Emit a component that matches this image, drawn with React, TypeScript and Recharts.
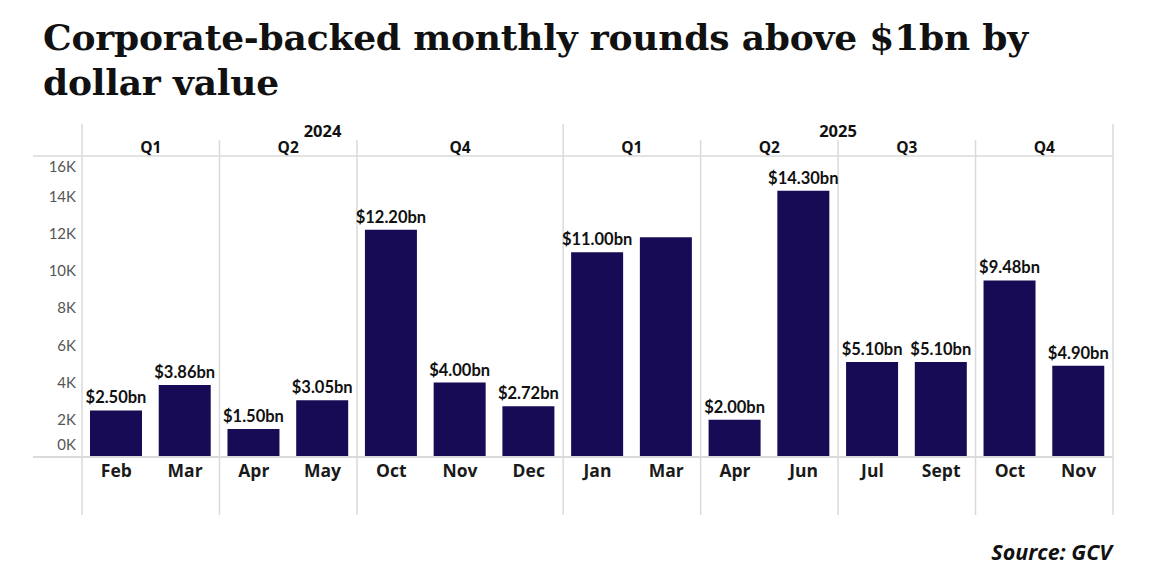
import React from 'react';
import { BarChart, Bar, XAxis, YAxis, LabelList } from 'recharts';

const months = ['Feb', 'Mar', 'Apr', 'May', 'Oct', 'Nov', 'Dec', 'Jan', 'Mar', 'Apr', 'Jun', 'Jul', 'Sept', 'Oct', 'Nov'];
const years = ['2024', '2024', '2024', '2024', '2024', '2024', '2024', '2025', '2025', '2025', '2025', '2025', '2025', '2025', '2025'];
const quarters = ['Q1', 'Q1', 'Q2', 'Q2', 'Q4', 'Q4', 'Q4', 'Q1', 'Q1', 'Q2', 'Q2', 'Q3', 'Q3', 'Q4', 'Q4'];
const values = [2.5, 3.86, 1.5, 3.05, 12.2, 4.0, 2.72, 11.0, 11.8, 2.0, 14.3, 5.1, 5.1, 9.48, 4.9];
const valueLabels = ['$2.50bn', '$3.86bn', '$1.50bn', '$3.05bn', '$12.20bn', '$4.00bn', '$2.72bn', '$11.00bn', '', '$2.00bn', '$14.30bn', '$5.10bn', '$5.10bn', '$9.48bn', '$4.90bn'];
const yTicks = [0, 2, 4, 6, 8, 10, 12, 14, 16];

const data = months.map((m, i) => ({
  key: `${years[i]}-${i}`,
  month: m,
  value: values[i],
  label: valueLabels[i],
}));

const CHART_W = 1165;
const CHART_H = 420;
const MARGIN = { top: 0, right: 52, bottom: 0, left: 32 };
const Y_AXIS_W = 50;
const TOP_AXIS_H = 49;
const BOTTOM_AXIS_H = 73;
const PLOT_W = CHART_W - MARGIN.left - MARGIN.right - Y_AXIS_W;
const PLOT_H = CHART_H - TOP_AXIS_H - BOTTOM_AXIS_H;
const HALF_BAND = PLOT_W / data.length / 2;

const GRID = '#dadada';
const BAR = '#170b55';
const FONT = 'Lato, "Open Sans", sans-serif';
const WIDE = '"Open Sans", Lato, sans-serif';

// how many bars from i onward share the same group
function runLength(i: number, sameQuarter: boolean) {
  let n = 1;
  while (
    i + n < data.length &&
    years[i + n] === years[i] &&
    (!sameQuarter || quarters[i + n] === quarters[i])
  ) n++;
  return n;
}

function TopTick(props: any) {
  const { x, y, payload } = props;
  const i = payload.index;
  const half = payload.offset || HALF_BAND;
  const left = x - half;
  const newYear = i === 0 || years[i] !== years[i - 1];
  const newQuarter = newYear || quarters[i] !== quarters[i - 1];
  const bottom = y + PLOT_H + 58;
  const els: React.ReactNode[] = [];
  if (newQuarter) {
    const n = runLength(i, true);
    els.push(
      <line key="ql" x1={left} x2={left} y1={y - (newYear ? 35 : 19)} y2={bottom} stroke={GRID} strokeWidth={1.5} />,
      <text key="qt" x={left + n * half} y={y - 6} textAnchor="middle" fontFamily={WIDE} fontWeight={700} fontSize={15.5} fill="#111">
        {quarters[i]}
      </text>
    );
  }
  if (newYear) {
    const n = runLength(i, false);
    els.push(
      <text key="yt" x={left + n * half} y={y - 22} textAnchor="middle" fontFamily={WIDE} fontWeight={700} fontSize={16.5} fill="#111">
        {years[i]}
      </text>
    );
  }
  if (i === data.length - 1) {
    els.push(<line key="end" x1={x + half} x2={x + half} y1={y - 35} y2={bottom} stroke={GRID} strokeWidth={1.5} />);
  }
  return <g>{els}</g>;
}

function MonthTick(props: any) {
  const { x, y, payload } = props;
  return (
    <text x={x} y={y + 20} textAnchor="middle" fontFamily={WIDE} fontWeight={700} fontSize={17.5} fill="#1a1a1a">
      {months[payload.index]}
    </text>
  );
}

function YTick(props: any) {
  const { x, y, payload } = props;
  const v = payload.value;
  const dy = v === 0 ? -12 : v === 16 ? 8 : 0;
  return (
    <g>
      {v === 0 && <line x1={x - 43} x2={x + 6 + PLOT_W} y1={y} y2={y} stroke={GRID} strokeWidth={2} />}
      {v === 16 && <line x1={x - 43} x2={x + 6 + PLOT_W} y1={y - 3} y2={y - 3} stroke={GRID} strokeWidth={1.5} />}
      <text x={x} y={y + dy} dy="0.36em" textAnchor="end" fontFamily={FONT} fontSize={15} fill="#555">
        {`${v}K`}
      </text>
    </g>
  );
}

export default function App() {
  return (
    <div style={{ position: 'absolute', left: 0, top: 0, width: 1165, height: 570, background: '#fff' }}>
      <div
        style={{
          position: 'absolute',
          left: 43,
          top: 15,
          width: 1080,
          fontFamily: '"DejaVu Serif", serif',
          fontWeight: 700,
          fontSize: 36,
          letterSpacing: '-0.2px',
          lineHeight: '45px',
          color: '#111',
        }}
      >
        Corporate-backed monthly rounds above $1bn by dollar value
      </div>
      <div style={{ position: 'absolute', left: 0, top: 110 }}>
        <BarChart width={CHART_W} height={CHART_H} data={data} margin={MARGIN} barCategoryGap="12%">
          <XAxis
            xAxisId="top"
            orientation="top"
            dataKey="key"
            height={TOP_AXIS_H}
            interval={0}
            axisLine={false}
            tickLine={false}
            tickSize={0}
            tickMargin={0}
            tick={<TopTick />}
          />
          <XAxis
            dataKey="key"
            height={BOTTOM_AXIS_H}
            interval={0}
            axisLine={false}
            tickLine={false}
            tickSize={0}
            tickMargin={0}
            tick={<MonthTick />}
          />
          <YAxis
            type="number"
            domain={[0, 16]}
            ticks={yTicks}
            interval={0}
            width={Y_AXIS_W}
            axisLine={false}
            tickLine={false}
            tickSize={0}
            tickMargin={6}
            tick={<YTick />}
          />
          <Bar dataKey="value" fill={BAR} barSize={52} isAnimationActive={false}>
            <LabelList
              dataKey="label"
              position="top"
              offset={7}
              fill="#111"
              fontFamily={FONT}
              fontWeight={700}
              fontSize={16.5}
            />
          </Bar>
        </BarChart>
      </div>
      <div
        style={{
          position: 'absolute',
          right: 53,
          top: 537,
          fontFamily: WIDE,
          fontStyle: 'italic',
          fontWeight: 700,
          fontSize: 21.5,
          color: '#111',
        }}
      >
        Source: GCV
      </div>
    </div>
  );
}
